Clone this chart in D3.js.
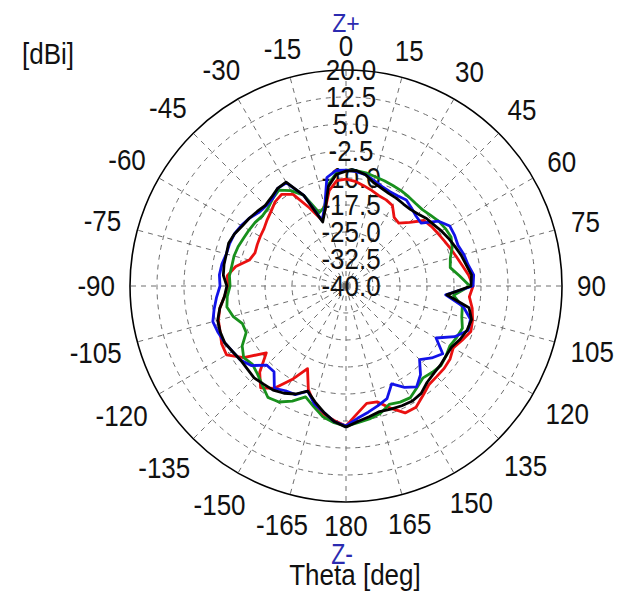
<!DOCTYPE html>
<html><head><meta charset="utf-8">
<script src="https://cdn.jsdelivr.net/npm/d3@7"></script>
<style>
html,body{margin:0;padding:0;background:#fff;}
svg{display:block;}
text{font-family:"Liberation Sans",Arial,sans-serif;}
</style></head>
<body><svg id="c" width="618" height="593"></svg>
<script>
// ---- data ----
const thetaDeg = d3.range(-180, 181, 5); // -180 .. 180 step 5
const angleTicks = [0,15,30,45,60,75,90,105,120,135,150,165,180,-165,-150,-135,-120,-105,-90,-75,-60,-45,-30,-15];
const radialTicks = [20.0,12.5,5.0,-2.5,-10.0,-17.5,-25.0,-32.5,-40.0];
const radialLabels = ["20.0","12.5","5.0","-2.5","-10.0","-17.5","-25.0","-32.5","-40.0"];
const unitLabel = "[dBi]";
const axisTitle = "Theta [deg]";

const redGain = [-1.1,-2.5,-3.9,-6.1,-9.4,-14.7,-10.0,-5.3,-3.1,-6.1,-11.1,-5.3,-1.7,-1.9,-2.8,-3.3,-4.4,-6.1,-7.2,-6.9,-8.9,-12.2,-13.1,-12.8,-12.5,-12.2,-11.4,-10.6,-9.4,-8.9,-10.6,-16.1,-20.6,-17.8,-13.1,-10.6,-10.3,-10.8,-11.7,-12.5,-13.3,-13.6,-14.2,-16.7,-17.2,-15.0,-11.7,-11.1,-10.6,-10.0,-9.2,-8.3,-7.2,-5.8,-4.7,-5.6,-4.4,-3.6,-3.1,-4.4,-5.6,-4.7,-4.4,-4.4,-4.2,-2.8,-1.1,-1.1,-3.9,-6.7,-6.9,-4.4,-1.1];
const greenGain = [-1.1,-1.9,-3.1,-5.3,-7.2,-4.7,-2.8,-2.2,-3.9,-5.3,-6.1,-5.3,-6.7,-9.4,-9.4,-7.5,-6.4,-6.9,-7.8,-7.5,-7.8,-7.8,-8.1,-8.6,-8.9,-9.2,-9.7,-9.4,-8.3,-7.5,-9.4,-12.2,-18.3,-17.2,-11.4,-8.6,-7.8,-7.8,-8.1,-8.6,-8.9,-9.2,-9.4,-9.7,-10.0,-10.0,-9.4,-8.6,-8.1,-7.8,-8.6,-10.0,-10.6,-8.3,-5.6,-10.0,-7.2,-6.7,-5.6,-6.1,-6.7,-6.1,-5.6,-6.1,-6.7,-5.6,-4.2,-4.4,-5.0,-3.3,-2.5,-1.9,-1.1];
const blueGain = [-1.1,-2.2,-4.4,-6.1,-8.9,-6.7,-6.4,-5.3,-8.9,-8.9,-5.6,-4.2,-3.6,-2.8,-2.2,-1.7,-2.8,-3.9,-5.0,-4.7,-5.0,-5.6,-5.6,-5.8,-6.4,-7.2,-8.3,-8.6,-8.3,-6.9,-6.9,-12.2,-20.6,-17.2,-9.4,-7.8,-7.8,-8.1,-8.6,-9.7,-10.6,-11.1,-11.1,-10.8,-11.7,-12.5,-12.8,-8.6,-6.7,-6.7,-6.9,-6.1,-5.6,-4.4,-4.7,-12.2,-6.9,-4.2,-3.9,-6.7,-11.1,-7.2,-8.9,-11.1,-7.8,-5.8,-7.5,-10.0,-6.7,-5.6,-4.4,-3.1,-1.1];
const blackGain = [-0.8,-2.2,-4.4,-6.7,-8.9,-6.9,-5.6,-4.7,-4.4,-3.9,-4.2,-4.2,-3.6,-2.8,-2.8,-3.1,-4.4,-6.1,-6.9,-5.8,-5.6,-5.6,-5.3,-5.8,-6.7,-7.2,-7.8,-8.3,-7.8,-6.9,-6.7,-12.2,-21.1,-17.8,-11.9,-8.9,-8.1,-7.8,-8.6,-10.3,-11.1,-11.7,-11.9,-12.2,-12.2,-11.7,-10.8,-10.3,-9.4,-8.6,-7.8,-6.9,-6.1,-5.0,-5.3,-11.9,-5.3,-3.9,-4.2,-5.0,-6.1,-6.1,-5.8,-5.6,-5.0,-3.6,-3.1,-3.3,-3.6,-3.9,-3.1,-2.2,-0.8];

const seriesList = [
  {name:"red", values: redGain, color:"#ea1010"},
  {name:"green", values: greenGain, color:"#18901c"},
  {name:"blue", values: blueGain, color:"#1212e8"},
  {name:"black", values: blackGain, color:"#000000"}
];

// ---- layout ----
const cx = 346, cy = 286, R = 216;
const svg = d3.select("#c");
const g = svg.append("g").attr("transform", `translate(${cx},${cy})`);
const r = d3.scaleLinear().domain([-40, 20]).range([0, R]);
const toRad = d => d * Math.PI / 180;

// grid circles (dashed)
g.selectAll("circle.grid").data(radialTicks.filter(v => v > -40 && v < 20))
  .join("circle").attr("class","grid")
  .attr("r", d => r(d)).attr("fill","none")
  .attr("stroke","#6e6e6e").attr("stroke-width",1).attr("stroke-dasharray","5,5");

// spokes
g.selectAll("line.spoke").data(angleTicks)
  .join("line").attr("class","spoke")
  .attr("x1",0).attr("y1",0)
  .attr("x2", d => R * Math.sin(toRad(d))).attr("y2", d => -R * Math.cos(toRad(d)))
  .attr("stroke","#6e6e6e").attr("stroke-width",1).attr("stroke-dasharray","5,5");

// outer circle
g.append("circle").attr("r", r(20)).attr("fill","none").attr("stroke","#000").attr("stroke-width",1.6);

// radial labels
g.selectAll("text.rl").data(radialTicks)
  .join("text").attr("class","rl")
  .attr("transform", d => `translate(5,${-r(d)}) scale(1,1.1)`)
  .attr("text-anchor","middle").attr("dy","0.36em")
  .attr("font-size",26).attr("fill","#111")
  .text((d,i) => radialLabels[i]);

// series
const line = d3.lineRadial()
  .angle(d => toRad(d.t))
  .radius(d => r(d.v))
  .curve(d3.curveLinear);
seriesList.forEach(s => {
  const pts = thetaDeg.map((t,i) => ({t, v: s.values[i]}));
  g.append("path").datum(pts)
    .attr("d", line).attr("fill","none")
    .attr("stroke", s.color).attr("stroke-width",2.8).attr("stroke-linejoin","round");
});

// angle labels
const al = g.selectAll("text.al").data(angleTicks)
  .join("text").attr("class","al")
  .attr("text-anchor","middle").attr("dy","0.36em")
  .attr("font-size",26).attr("fill","#111")
  .text(d => String(d));
al.attr("transform", function(d) {
    const a = toRad(d);
    const w = this.getComputedTextLength(), h = 24;
    const sa = Math.abs(Math.sin(a)), ca = Math.abs(Math.cos(a));
    const ext = sa * w / 2 + ca * h / 2;
    const dist = R + 12 + 3 * sa + ext;
    return `translate(${dist * Math.sin(a)},${-dist * Math.cos(a)}) scale(1,1.1)`;
  });

// other texts
svg.append("text").attr("transform","translate(22,64) scale(1,1.1)")
  .attr("font-size",26).attr("fill","#111").text(unitLabel);
svg.append("text").attr("transform","translate(346,32) scale(1,1.1)")
  .attr("text-anchor","middle").attr("font-size",23).attr("fill","#2b2bb0").text("Z+");
svg.append("text").attr("transform","translate(342,564) scale(1,1.25)")
  .attr("text-anchor","middle").attr("font-size",23).attr("fill","#2b2bb0").text("Z-");
svg.append("text").attr("transform","translate(355,585) scale(1,1.1)")
  .attr("text-anchor","middle").attr("font-size",26).attr("fill","#111").text(axisTitle);
</script></body></html>
